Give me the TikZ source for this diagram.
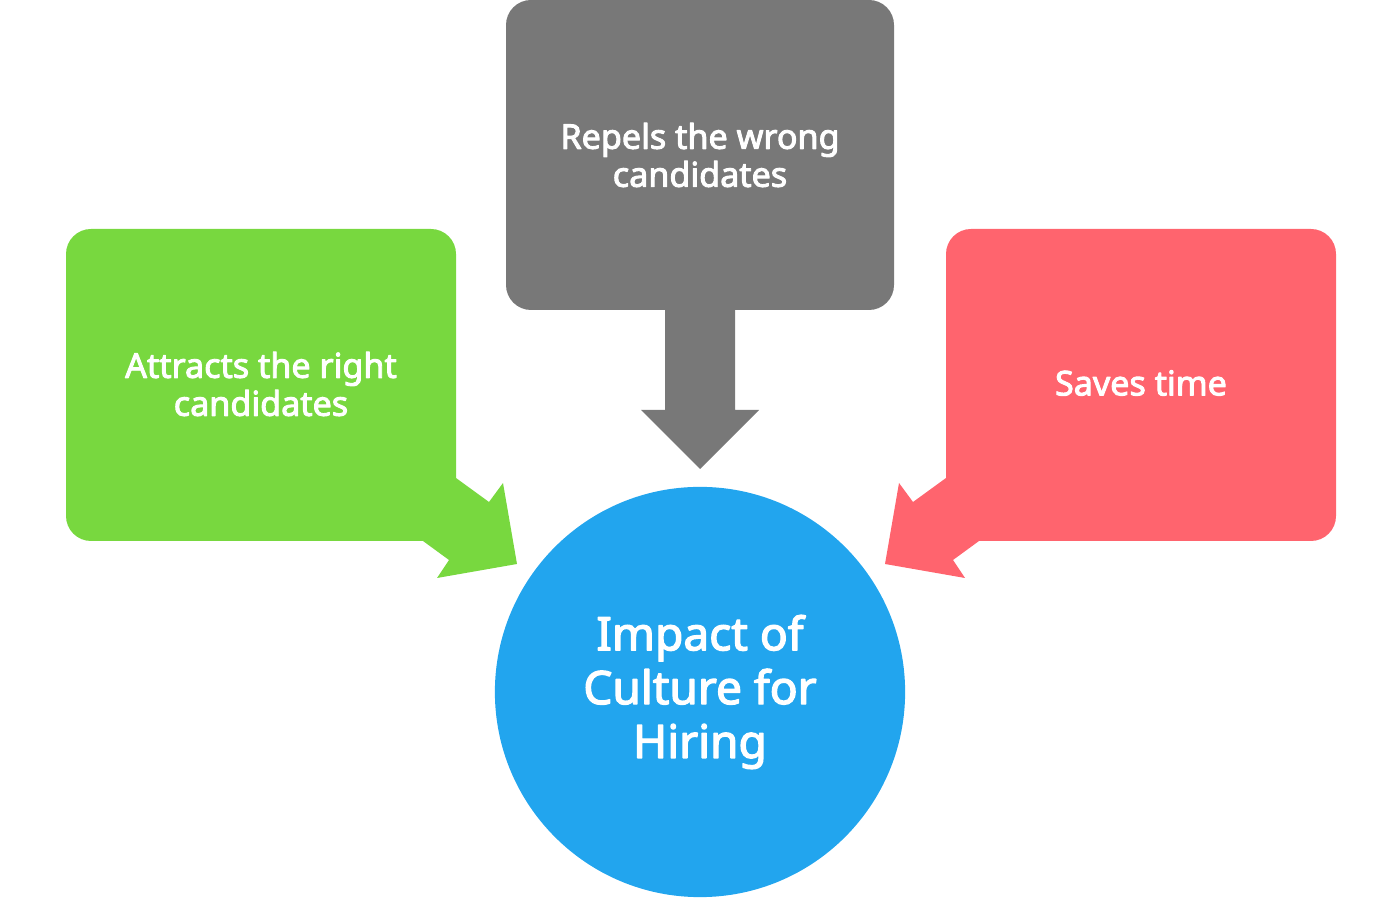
\documentclass[tikz,border=0pt]{standalone}
\usepackage{fontspec}
\setmainfont{Noto Sans}[AutoFakeBold=2.8]
\definecolor{cgreen}{HTML}{78D83F}
\definecolor{cgray}{HTML}{787878}
\definecolor{cred}{HTML}{FF646E}
\definecolor{cblue}{HTML}{22A5EE}

\begin{document}
\begin{tikzpicture}[x=0.01cm,y=-0.01cm,line join=round,
  lbl/.style={text=white,align=center,font=\bfseries\fontsize{9.7}{10.8}\selectfont}]
\useasboundingbox (0,0) rectangle (1400,898);
\coordinate (O) at (700,692);
% side callouts, mirrored about the middle
\foreach \s/\c/\m in {1/cgreen/700,-1/cred/702}{
  \begin{scope}[shift={(\m,0)},xscale=\s]
  \fill[\c,rounded corners=2.5mm] (-634,229) rectangle (-244,541);
  \fill[\c] (-244,478)--(-211,502)--(-197,483)--(-183,564)--(-263,578)--(-251,560)--(-277,541)--(-277,478)--cycle;
  \end{scope}}
% top callout
\fill[cgray,rounded corners=2.5mm] (506,0) rectangle (894,310);
\fill[cgray] (665,300)--(665,410)--(641,410)--(700,469)--(759,410)--(735,410)--(735,300)--cycle;
\fill[cblue] (O) circle[radius=2.05cm];
\node[lbl] (attract) at (261,384) {Attracts the right\\candidates};
\node[lbl] (repel) at (700,155) {Repels the wrong\\candidates};
\node[lbl] (saves) at (1141,383) {Saves time};
\node[lbl,font=\bfseries\fontsize{13.1}{15.3}\selectfont] (impact) at (O) {Impact of\\Culture for\\Hiring};
\end{tikzpicture}
\end{document}
